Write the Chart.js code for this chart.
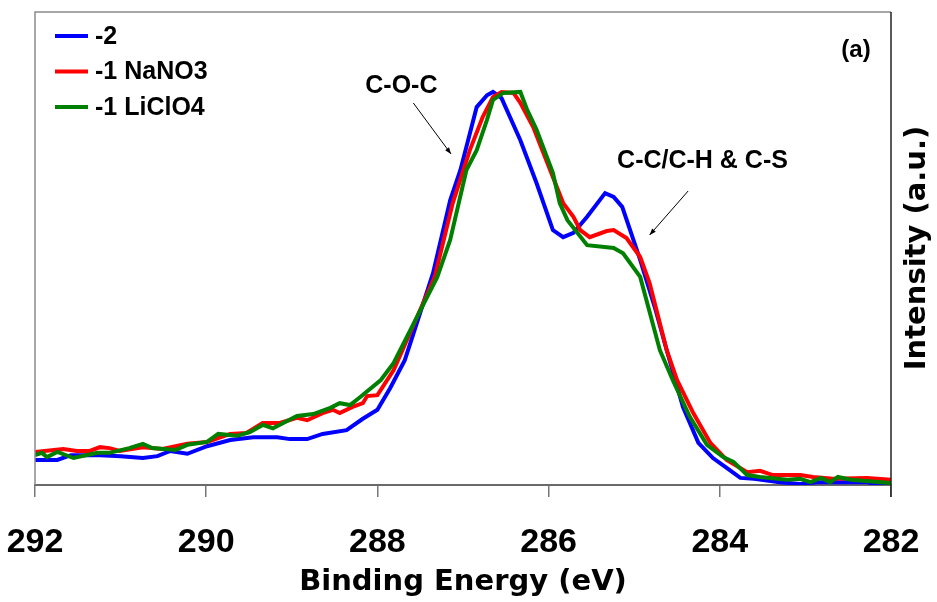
<!DOCTYPE html>
<html>
<head>
<meta charset="utf-8">
<script src="https://cdn.jsdelivr.net/npm/chart.js@4.4.0/dist/chart.umd.min.js"></script>
<style>
  html, body { margin: 0; padding: 0; background: #fff; }
  #wrap { width: 937px; height: 602px; }
</style>
</head>
<body>
<div id="wrap"><canvas id="xps" width="937" height="602"></canvas></div>
<script>
// Series labels and colours
const seriesNames = ['-2', '-1 NaNO3', '-1 LiClO4'];
const seriesColors = ['#0000ff', '#ff0000', '#008000'];

// Axis ticks (binding energy, eV)
const tickValues = [292, 290, 288, 286, 284, 282];

// -2
const energyA = [292.0, 291.74, 291.58, 291.24, 291.0, 290.74, 290.57, 290.42, 290.22, 289.99,
    289.72, 289.45, 289.17, 289.02, 288.82, 288.64, 288.36, 288.17, 288.0, 287.85,
    287.68, 287.35, 287.15, 287.03, 286.84, 286.72, 286.65, 286.55, 286.33, 286.14,
    285.95, 285.83, 285.71, 285.55, 285.34, 285.24, 285.14, 284.93, 284.75, 284.62,
    284.43, 284.25, 284.08, 283.92, 283.76, 283.6, 283.3, 283.06, 282.86, 282.5,
    282.28, 282.16, 282.0];
const intensityA = [5.3, 5.3, 6.3, 6.3, 6.1, 5.7, 6.1, 7.2, 6.6, 8.2,
    9.5, 10.1, 10.1, 9.7, 9.7, 10.8, 11.6, 14.0, 15.9, 20.5,
    26.4, 44.8, 60.2, 66.6, 79.9, 82.4, 83.1, 81.8, 72.9, 63.8,
    53.9, 52.4, 53.3, 56.7, 61.7, 60.9, 58.8, 47.6, 37.0, 28.5,
    16.5, 8.9, 5.7, 3.6, 1.5, 1.3, 0.6, 0.2, 0.6, 0.6,
    0.6, 0.0, 0.0];

// -1 NaNO3
const energyB = [292.0, 291.67, 291.51, 291.36, 291.24, 291.13, 291.01, 290.74, 290.51, 290.22,
    289.99, 289.72, 289.53, 289.34, 289.14, 288.94, 288.82, 288.64, 288.52, 288.44,
    288.29, 288.17, 288.12, 288.0, 287.81, 287.33, 287.12, 286.92, 286.77, 286.65,
    286.55, 286.41, 286.33, 286.18, 285.95, 285.83, 285.71, 285.63, 285.52, 285.32,
    285.24, 285.09, 284.93, 284.82, 284.62, 284.5, 284.31, 284.11, 283.92, 283.68,
    283.53, 283.38, 283.06, 282.91, 282.68, 282.28, 282.0];
const intensityB = [7.0, 7.6, 7.2, 7.2, 8.0, 7.8, 7.2, 8.0, 7.6, 8.7,
    9.1, 10.8, 11.0, 13.1, 13.1, 14.2, 13.7, 15.2, 15.9, 15.2,
    16.5, 17.3, 18.8, 19.0, 24.3, 44.0, 59.6, 70.8, 77.8, 82.0,
    83.1, 82.9, 80.8, 75.7, 65.1, 59.6, 56.7, 53.9, 52.4, 53.7,
    53.9, 52.2, 48.2, 42.7, 28.5, 22.2, 15.2, 8.9, 5.3, 2.7,
    3.0, 2.1, 2.1, 1.7, 1.3, 1.5, 1.1];

// -1 LiClO4
const energyC = [292.0, 291.92, 291.86, 291.74, 291.55, 291.27, 291.13, 290.9, 290.74, 290.63,
    290.36, 290.22, 289.99, 289.86, 289.64, 289.49, 289.34, 289.22, 289.1, 288.94,
    288.75, 288.55, 288.44, 288.32, 288.2, 287.96, 287.81, 287.3, 287.15, 286.96,
    286.84, 286.72, 286.65, 286.53, 286.33, 286.25, 286.14, 285.95, 285.87, 285.78,
    285.55, 285.24, 285.13, 284.93, 284.7, 284.55, 284.35, 284.15, 283.96, 283.84,
    283.68, 283.53, 283.21, 283.06, 282.94, 282.82, 282.71, 282.62, 282.47, 282.0];
const intensityC = [6.3, 6.8, 5.9, 7.0, 5.7, 6.8, 6.8, 7.8, 8.7, 7.8,
    7.4, 8.5, 9.1, 10.8, 10.4, 11.2, 12.7, 12.0, 13.1, 14.6,
    15.0, 16.3, 17.3, 16.9, 18.6, 22.2, 25.8, 44.0, 51.8, 66.6,
    70.8, 77.2, 81.4, 82.9, 83.1, 79.3, 75.1, 66.0, 59.6, 56.0,
    50.7, 50.1, 49.0, 44.0, 28.5, 22.2, 14.4, 8.5, 5.9, 4.9,
    2.1, 1.7, 1.1, 1.3, 0.6, 1.5, 0.6, 1.7, 1.1, 0.4];

const energies = [energyA, energyB, energyC];
const intensities = [intensityA, intensityB, intensityC];

function toPoints(xs, ys) {
    return xs.map((x, i) => ({ x: x, y: ys[i] }));
}

function arrow(ctx, x1, y1, x2, y2) {
    const ang = Math.atan2(y2 - y1, x2 - x1);
    ctx.beginPath();
    ctx.moveTo(x1, y1);
    ctx.lineTo(x2, y2);
    ctx.stroke();
    ctx.beginPath();
    ctx.moveTo(x2, y2);
    ctx.lineTo(x2 - 7 * Math.cos(ang - 0.35), y2 - 7 * Math.sin(ang - 0.35));
    ctx.lineTo(x2 - 7 * Math.cos(ang + 0.35), y2 - 7 * Math.sin(ang + 0.35));
    ctx.closePath();
    ctx.fill();
}

// Frame, in-plot legend, peak labels and the right-hand axis title
const decorations = {
    id: 'decorations',
    afterDraw(chart) {
        const ctx = chart.ctx;
        const area = chart.chartArea;
        const xs = chart.scales.x;
        ctx.save();

        // frame
        ctx.strokeStyle = '#8a8a8a';
        ctx.lineWidth = 1.5;
        ctx.beginPath();
        ctx.moveTo(area.left, area.bottom);
        ctx.lineTo(area.left, area.top);
        ctx.lineTo(area.right, area.top);
        ctx.stroke();
        ctx.strokeStyle = '#222';
        ctx.beginPath();
        ctx.moveTo(area.right, area.top);
        ctx.lineTo(area.right, area.bottom + 12);
        ctx.stroke();

        // legend
        ctx.font = 'bold 25px "Liberation Sans", Arial, sans-serif';
        ctx.textBaseline = 'middle';
        ctx.textAlign = 'left';
        chart.data.datasets.forEach((ds, i) => {
            const y = area.top + 24 + i * 35.5;
            ctx.strokeStyle = ds.borderColor;
            ctx.lineWidth = 4;
            ctx.beginPath();
            ctx.moveTo(area.left + 20, y);
            ctx.lineTo(area.left + 53, y);
            ctx.stroke();
            ctx.fillStyle = '#000';
            ctx.fillText(ds.label, area.left + 60, y + 1);
        });

        // peak labels
        ctx.fillStyle = '#000';
        ctx.strokeStyle = '#000';
        ctx.lineWidth = 1;
        ctx.textAlign = 'center';
        ctx.fillText('C-O-C', xs.getPixelForValue(287.72), 86);
        ctx.textAlign = 'left';
        ctx.fillText('C-C/C-H & C-S', xs.getPixelForValue(285.2), 161);
        arrow(ctx, xs.getPixelForValue(287.58), 103, xs.getPixelForValue(287.14), 154);
        arrow(ctx, xs.getPixelForValue(284.37), 191, xs.getPixelForValue(284.82), 235);

        ctx.font = 'bold 24px "Liberation Sans", Arial, sans-serif';
        ctx.textAlign = 'center';
        ctx.fillText('(a)', 856, 50);

        // y title, reading upwards
        ctx.translate(917, 248);
        ctx.rotate(-Math.PI / 2);
        ctx.font = 'bold 29px "DejaVu Sans", sans-serif';
        ctx.fillText('Intensity (a.u.)', 0, 0);
        ctx.restore();
    }
};

new Chart(document.getElementById('xps'), {
    type: 'line',
    data: {
        datasets: seriesNames.map((name, i) => ({
            label: name,
            data: toPoints(energies[i], intensities[i]),
            borderColor: seriesColors[i],
            borderWidth: 4,
            pointRadius: 0,
            tension: 0,
            fill: false,
            order: 2 - i
        }))
    },
    options: {
        responsive: false,
        animation: false,
        layout: { padding: { left: 35, right: 46, top: 12, bottom: 0 } },
        plugins: {
            legend: { display: false },
            tooltip: { enabled: false }
        },
        scales: {
            x: {
                type: 'linear',
                reverse: true,
                min: 282,
                max: 292,
                afterBuildTicks: scale => {
                    scale.ticks = tickValues.map(v => ({ value: v }));
                },
                afterFit: scale => {
                    scale.height = 117;
                    scale.paddingLeft = 0;
                    scale.paddingRight = 0;
                },
                ticks: {
                    color: '#000',
                    padding: 25,
                    maxRotation: 0,
                    font: { family: '"Liberation Sans", Arial, sans-serif', size: 34, weight: 'bold' }
                },
                grid: {
                    drawOnChartArea: false,
                    drawTicks: true,
                    tickLength: 12,
                    color: '#777',
                    lineWidth: 1.5
                },
                border: { display: true, color: '#6a6a6a', width: 2 },
                title: {
                    display: true,
                    text: 'Binding Energy (eV)',
                    color: '#000',
                    font: { family: '"DejaVu Sans", sans-serif', size: 29, weight: 'bold' },
                    padding: { top: 0, bottom: 2 }
                }
            },
            y: {
                display: false,
                min: 0,
                max: 100
            }
        }
    },
    plugins: [decorations]
});
</script>
</body>
</html>
